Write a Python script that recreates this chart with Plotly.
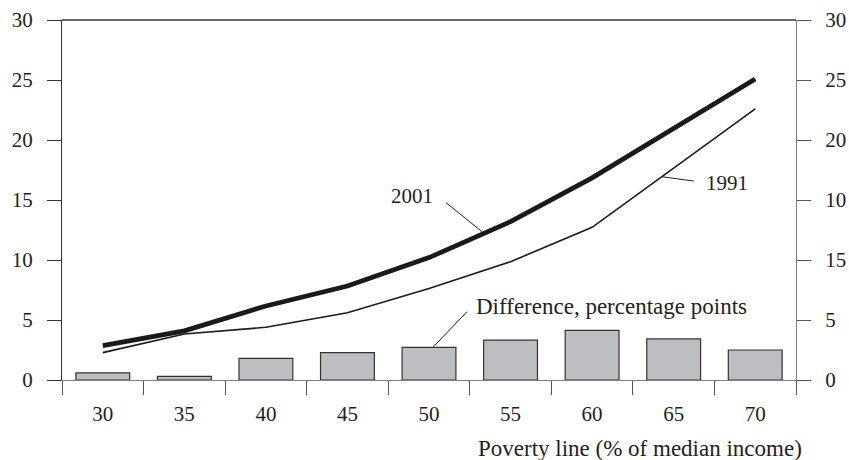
import plotly.graph_objects as go

categories = ["30", "35", "40", "45", "50", "55", "60", "65", "70"]
poverty_2001 = [2.86, 4.1, 6.17, 7.83, 10.2, 13.2, 16.85, 21.0, 25.08]
poverty_1991 = [2.28, 3.83, 4.39, 5.6, 7.62, 9.86, 12.72, 17.65, 22.6]
difference = [0.6, 0.3, 1.8, 2.28, 2.72, 3.33, 4.14, 3.42, 2.5]
left_ticks = [0, 5, 10, 15, 20, 25, 30]
right_tick_text = ["0", "5", "15", "10", "20", "25", "30"]

FONT = "Liberation Serif"
TXT = "#231f20"

fig = go.Figure()
fig.add_trace(go.Bar(x=categories, y=difference, width=0.66,
                     marker=dict(color="#bdbec1", line=dict(color="#333333", width=1.2)),
                     showlegend=False, hoverinfo="skip"))
fig.add_trace(go.Scatter(x=categories, y=poverty_1991, mode="lines",
                         line=dict(color="#1a1a1a", width=1.6), showlegend=False))
fig.add_trace(go.Scatter(x=categories, y=poverty_2001, mode="lines",
                         line=dict(color="#1a1a1a", width=4.8), showlegend=False))
# invisible trace to activate right axis
fig.add_trace(go.Scatter(x=categories, y=difference, yaxis="y2", mode="lines",
                         line=dict(width=0), opacity=0, showlegend=False, hoverinfo="skip"))

fig.update_layout(
    width=849, height=460,
    margin=dict(l=62, r=53, t=20, b=80, autoexpand=False),
    plot_bgcolor="white", paper_bgcolor="white",
    font=dict(family=FONT, size=21, color=TXT),
    xaxis=dict(type="category", range=[-0.5, 8.5], showline=True, linecolor="#808080",
               linewidth=1.3, ticks="outside", tickson="boundaries", ticklen=14,
               tickcolor="#555555", tickwidth=1.3, showgrid=False, zeroline=False,
               automargin=False,
               tickfont=dict(family=FONT, size=21, color=TXT), ticklabelstandoff=15),
    yaxis=dict(range=[0, 30], tickvals=left_ticks, showline=True, linecolor="#333333",
               linewidth=1.3, ticks="outside", ticklen=14, tickcolor="#333333", tickwidth=1.3,
               showgrid=False, zeroline=False, automargin=False,
               tickfont=dict(family=FONT, size=21, color=TXT), ticklabelstandoff=10),
    yaxis2=dict(range=[0, 30], overlaying="y", side="right", tickvals=left_ticks,
                ticktext=right_tick_text, showline=True, linecolor="#808080", linewidth=1.3,
                ticks="outside", ticklen=14, tickcolor="#555555", tickwidth=1.3,
                showgrid=False, zeroline=False, automargin=False,
                tickfont=dict(family=FONT, size=21, color=TXT), ticklabelstandoff=10),
    bargap=0.34,
)

# top frame line
fig.add_shape(type="line", xref="paper", yref="paper", x0=0, x1=1, y0=1, y1=1,
              line=dict(color="#333333", width=1.3))

# annotations
fig.add_annotation(x=3.797, y=15.33, text="2001", showarrow=False,
                   font=dict(family=FONT, size=21, color=TXT))
fig.add_shape(type="line", x0=4.208, y0=14.78, x1=4.65, y1=12.36,
              line=dict(color="#231f20", width=1))
fig.add_annotation(x=7.651, y=16.44, text="1991", showarrow=False,
                   font=dict(family=FONT, size=21, color=TXT))
fig.add_shape(type="line", x0=6.858, y0=16.94, x1=7.246, y1=16.58,
              line=dict(color="#231f20", width=1))
fig.add_annotation(x=6.236, y=6.11, text="Difference, percentage points", showarrow=False,
                   font=dict(family=FONT, size=23, color=TXT))
fig.add_shape(type="line", x0=4.466, y0=5.69, x1=4.056, y1=2.78,
              line=dict(color="#231f20", width=1))
fig.add_annotation(xref="paper", yref="paper", x=1.0113, y=-0.189, xanchor="right",
                   yanchor="middle", text="Poverty line (% of median income)", showarrow=False,
                   font=dict(family=FONT, size=23, color=TXT))

fig.write_html("out.html", config={"displayModeBar": False},
               post_script="document.body.style.margin='0px';document.body.style.overflow='hidden';")
